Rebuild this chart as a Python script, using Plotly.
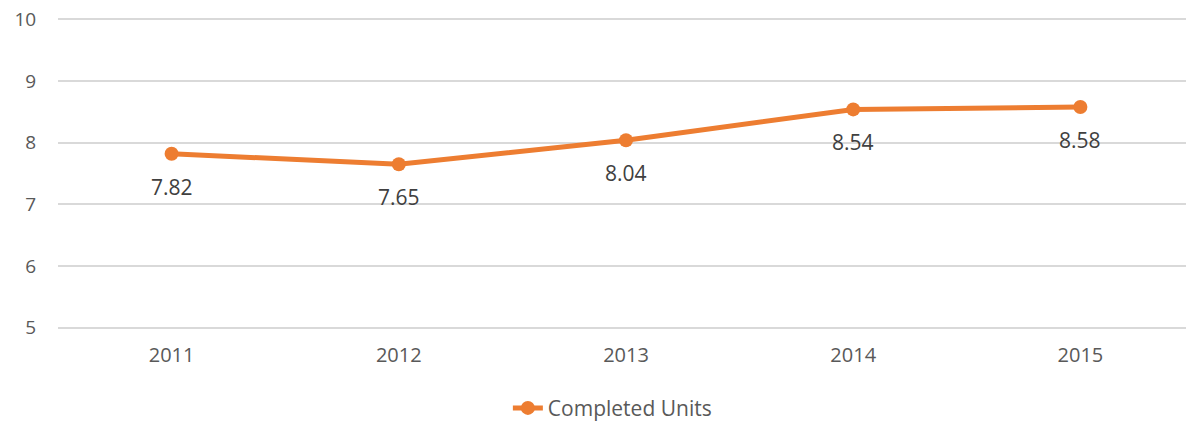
import plotly.graph_objects as go

years = ["2011", "2012", "2013", "2014", "2015"]
completed_units = [7.82, 7.65, 8.04, 8.54, 8.58]
y_ticks = [5, 6, 7, 8, 9, 10]

orange = "#ED7D31"
txt = "#595959"
font_family = "Open Sans, Liberation Sans, sans-serif"

fig = go.Figure()
fig.add_trace(go.Scatter(
    x=years, y=completed_units, mode="lines+markers", name="Completed Units",
    line=dict(color=orange, width=5), marker=dict(color=orange, size=14),
    cliponaxis=False,
))
for i, y in enumerate(completed_units):
    fig.add_annotation(x=i, y=y, text=f"{y:.2f}", showarrow=False, yshift=-33,
                       font=dict(size=21, color="#404040", family=font_family))

fig.update_layout(
    width=1186, height=417,
    margin=dict(l=50, r=0, t=8.5, b=94.5, autoexpand=False),
    paper_bgcolor="white", plot_bgcolor="white",
    font=dict(family=font_family, color=txt, size=20),
    showlegend=True,
    legend=dict(orientation="h", x=0.488, xanchor="center", y=-0.25, yanchor="middle",
                font=dict(size=21, color=txt)),
    xaxis=dict(type="category", range=[-0.5, 4.5], showgrid=False, zeroline=False, showline=False,
               ticks="outside", ticklen=7, tickcolor="white",
               tickfont=dict(size=20, color=txt)),
    yaxis=dict(range=[4.96, 10.04], tickvals=y_ticks, showgrid=True, gridcolor="#D9D9D9",
               gridwidth=2, zeroline=False, showline=False, ticklabeloverflow="allow",
               ticks="outside", ticklen=17, tickcolor="white",
               tickfont=dict(size=19, color=txt)),
)
fig.write_html("out.html")
